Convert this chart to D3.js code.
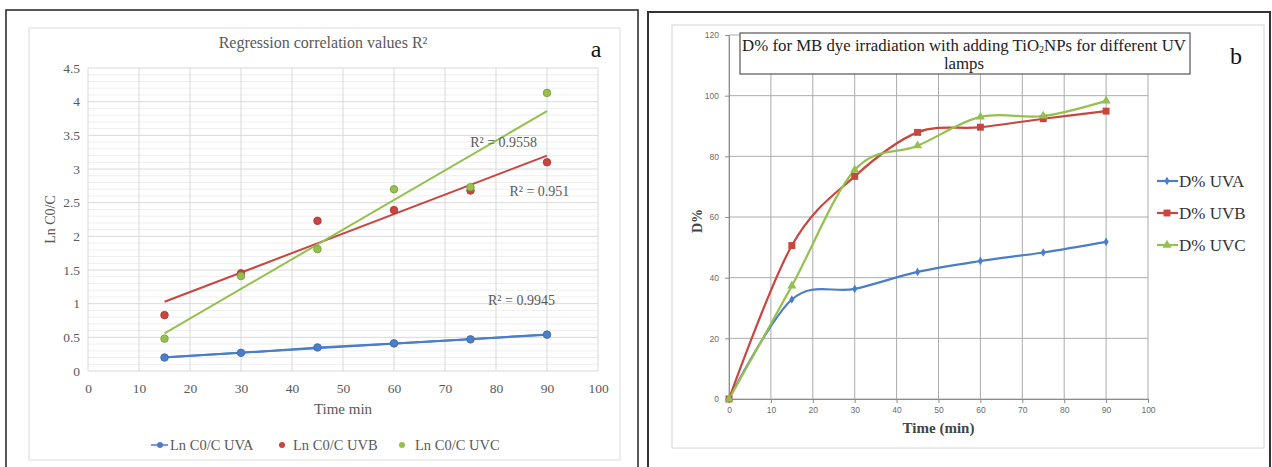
<!DOCTYPE html>
<html>
<head>
<meta charset="utf-8">
<script src="https://cdn.jsdelivr.net/npm/d3@7"></script>
<style>
  html, body { margin: 0; padding: 0; background: #fff; }
  svg { display: block; }
</style>
</head>
<body>
<svg id="fig" width="1272" height="467"></svg>
<script>
// ---- Panel a: Ln(C0/C) against irradiation time ----
const timeA = [15, 30, 45, 60, 75, 90];
const lnUVA = [0.20, 0.27, 0.35, 0.41, 0.47, 0.54];
const lnUVB = [0.83, 1.45, 2.23, 2.39, 2.68, 3.10];
const lnUVC = [0.48, 1.41, 1.81, 2.70, 2.73, 4.13];
const seriesA = ["Ln C0/C UVA", "Ln C0/C UVB", "Ln C0/C UVC"];
const r2Text = ["R² = 0.9945", "R² = 0.951", "R² = 0.9558"];
const r2At = [[85, 1.05], [88.5, 2.67], [81.5, 3.4]];   // label anchor (time, value)
const xTicksA = [0, 10, 20, 30, 40, 50, 60, 70, 80, 90, 100];
const yTicksA = [0, 0.5, 1, 1.5, 2, 2.5, 3, 3.5, 4, 4.5];

// ---- Panel b: degradation percentage D% ----
const timeB = [0, 15, 30, 45, 60, 75, 90];
const dUVA = [0, 32.8, 36.3, 41.9, 45.5, 48.3, 51.8];
const dUVB = [0, 50.6, 73.4, 87.9, 89.6, 92.4, 94.9];
const dUVC = [0, 37.3, 75.5, 83.5, 93.0, 93.3, 98.3];
const seriesB = ["D% UVA", "D% UVB", "D% UVC"];
const xTicksB = [0, 10, 20, 30, 40, 50, 60, 70, 80, 90, 100];
const yTicksB = [0, 20, 40, 60, 80, 100, 120];

const colors = ["#4a7ec8", "#c9453f", "#96c04e"];
const serif = "'Liberation Serif', 'Times New Roman', serif";
const sans = "'Liberation Sans', Arial, sans-serif";

const svg = d3.select("#fig");

// outer panel frames
svg.append("rect").attr("x", 6).attr("y", 10).attr("width", 632).attr("height", 470)
  .attr("fill", "none").attr("stroke", "#222").attr("stroke-width", 1.5);
svg.append("rect").attr("x", 648).attr("y", 12).attr("width", 622).attr("height", 470)
  .attr("fill", "none").attr("stroke", "#333").attr("stroke-width", 2);
// chart area frames
svg.append("rect").attr("x", 29).attr("y", 28).attr("width", 591).attr("height", 432)
  .attr("fill", "none").attr("stroke", "#dedede").attr("stroke-width", 1);
svg.append("rect").attr("x", 672).attr("y", 25).attr("width", 592).attr("height", 423)
  .attr("fill", "none").attr("stroke", "#d4d4d4").attr("stroke-width", 1);

// ================= Panel a =================
{
  const x = d3.scaleLinear().domain([0, 100]).range([88, 598]);
  const y = d3.scaleLinear().domain([0, 4.5]).range([371, 68]);
  const g = svg.append("g");

  // minor horizontal grid every 0.1
  g.append("g").selectAll("line").data(d3.range(0, 45).map(i => i / 10).filter(v => Math.round(v * 10) % 5 !== 0))
    .join("line")
    .attr("x1", x(0)).attr("x2", x(100)).attr("y1", d => y(d)).attr("y2", d => y(d))
    .attr("stroke", "#efefef").attr("stroke-width", 1);
  // major grid
  g.append("g").selectAll("line").data(yTicksA).join("line")
    .attr("x1", x(0)).attr("x2", x(100)).attr("y1", d => y(d)).attr("y2", d => y(d))
    .attr("stroke", "#d9d9d9").attr("stroke-width", 1);
  g.append("g").selectAll("line").data(xTicksA).join("line")
    .attr("x1", d => x(d)).attr("x2", d => x(d)).attr("y1", y(0)).attr("y2", y(4.5))
    .attr("stroke", "#d9d9d9").attr("stroke-width", 1);

  // axes labels via d3 axes
  const ax = g.append("g").attr("transform", `translate(0,${y(0)})`)
    .call(d3.axisBottom(x).tickValues(xTicksA).tickSize(0).tickPadding(12));
  const ay = g.append("g").attr("transform", `translate(${x(0)},0)`)
    .call(d3.axisLeft(y).tickValues(yTicksA).tickFormat(d3.format("")).tickSize(0).tickPadding(8));
  [ax, ay].forEach(a => {
    a.select(".domain").remove();
    a.selectAll("text").attr("fill", "#595959").attr("font-family", serif).attr("font-size", 13.5);
  });

  const sets = [lnUVA, lnUVB, lnUVC];

  // least-squares trend lines over the measured span
  sets.forEach((vals, i) => {
    const mx = d3.mean(timeA), my = d3.mean(vals);
    const sxy = d3.sum(timeA, (t, k) => (t - mx) * (vals[k] - my));
    const sxx = d3.sum(timeA, t => (t - mx) ** 2);
    const b = sxy / sxx, a0 = my - b * mx;
    const t0 = timeA[0], t1 = timeA[timeA.length - 1];
    g.append("line")
      .attr("x1", x(t0)).attr("y1", y(a0 + b * t0))
      .attr("x2", x(t1)).attr("y2", y(a0 + b * t1))
      .attr("stroke", colors[i]).attr("stroke-width", 2);
  });

  // UVA series joined by a line
  g.append("path").datum(timeA.map((t, k) => [t, lnUVA[k]]))
    .attr("d", d3.line().x(d => x(d[0])).y(d => y(d[1])))
    .attr("fill", "none").attr("stroke", colors[0]).attr("stroke-width", 2);

  // markers
  sets.forEach((vals, i) => {
    g.append("g").selectAll("circle").data(timeA.map((t, k) => [t, vals[k]])).join("circle")
      .attr("cx", d => x(d[0])).attr("cy", d => y(d[1])).attr("r", 3.8)
      .attr("fill", colors[i]).attr("stroke", d3.color(colors[i]).darker(0.6)).attr("stroke-width", 0.8);
  });

  // R² labels
  g.append("g").selectAll("text").data(r2Text).join("text")
    .attr("x", (d, i) => x(r2At[i][0])).attr("y", (d, i) => y(r2At[i][1]) + 5)
    .attr("text-anchor", "middle").attr("font-family", serif).attr("font-size", 14)
    .attr("fill", "#595959").text(d => d);

  // titles
  g.append("text").attr("x", 323).attr("y", 48).attr("text-anchor", "middle")
    .attr("font-family", serif).attr("font-size", 16).attr("fill", "#595959")
    .text("Regression correlation values R²");
  g.append("text").attr("x", 596).attr("y", 57).attr("text-anchor", "middle")
    .attr("font-family", serif).attr("font-size", 24).attr("fill", "#111").text("a");
  g.append("text").attr("transform", `translate(55,${(y(0) + y(4.5)) / 2}) rotate(-90)`)
    .attr("text-anchor", "middle").attr("font-family", serif).attr("font-size", 14)
    .attr("fill", "#595959").text("Ln C0/C");
  g.append("text").attr("x", x(50)).attr("y", 414).attr("text-anchor", "middle")
    .attr("font-family", serif).attr("font-size", 15).attr("fill", "#595959").text("Time min");

  // legend
  const legMark = [160, 282, 402];
  const legText = [170, 293, 415];
  const lg = g.append("g");
  seriesA.forEach((name, i) => {
    const cy = 445;
    if (i === 0) {
      lg.append("line").attr("x1", legMark[i] - 9).attr("x2", legMark[i] + 8).attr("y1", cy).attr("y2", cy)
        .attr("stroke", colors[i]).attr("stroke-width", 1.5);
    }
    lg.append("circle").attr("cx", legMark[i]).attr("cy", cy).attr("r", 3)
      .attr("fill", colors[i]);
    lg.append("text").attr("x", legText[i]).attr("y", cy + 5)
      .attr("font-family", serif).attr("font-size", 14.5).attr("fill", "#595959").text(name);
  });
}

// ================= Panel b =================
{
  const x = d3.scaleLinear().domain([0, 100]).range([729, 1148]);
  const y = d3.scaleLinear().domain([0, 120]).range([399, 35]);
  const g = svg.append("g");

  // grid
  g.append("g").selectAll("line").data(yTicksB).join("line")
    .attr("x1", x(0)).attr("x2", x(100)).attr("y1", d => y(d)).attr("y2", d => y(d))
    .attr("stroke", "#acacac").attr("stroke-width", 1);
  g.append("g").selectAll("line").data(xTicksB).join("line")
    .attr("x1", d => x(d)).attr("x2", d => x(d)).attr("y1", y(0)).attr("y2", y(120))
    .attr("stroke", "#acacac").attr("stroke-width", 1);

  const ax = g.append("g").attr("transform", `translate(0,${y(0)})`)
    .call(d3.axisBottom(x).tickValues(xTicksB).tickSize(4).tickPadding(4));
  const ay = g.append("g").attr("transform", `translate(${x(0)},0)`)
    .call(d3.axisLeft(y).tickValues(yTicksB).tickSize(4).tickPadding(6));
  [ax, ay].forEach(a => {
    a.select(".domain").attr("stroke", "#8c8c8c");
    a.selectAll(".tick line").attr("stroke", "#8c8c8c");
    a.selectAll("text").attr("fill", "#6b6b6b").attr("font-family", sans).attr("font-size", 8.5);
  });

  const sets = [dUVA, dUVB, dUVC];
  const line = d3.line().x(d => x(d[0])).y(d => y(d[1])).curve(d3.curveCardinal.tension(0));
  sets.forEach((vals, i) => {
    g.append("path").datum(timeB.map((t, k) => [t, vals[k]]))
      .attr("d", line).attr("fill", "none").attr("stroke", colors[i]).attr("stroke-width", 2.2);
  });

  const symTypes = [d3.symbolDiamond, d3.symbolSquare, d3.symbolTriangle];
  const symSizes = [22, 48, 36];
  sets.forEach((vals, i) => {
    g.append("g").selectAll("path").data(timeB.map((t, k) => [t, vals[k]])).join("path")
      .attr("transform", d => `translate(${x(d[0])},${y(d[1])})`)
      .attr("d", d3.symbol().type(symTypes[i]).size(symSizes[i]))
      .attr("fill", colors[i]);
  });

  // title box
  g.append("rect").attr("x", 740).attr("y", 33).attr("width", 450).attr("height", 41)
    .attr("fill", "#fff").attr("stroke", "#555").attr("stroke-width", 1.2);
  const t1 = g.append("text").attr("x", 964).attr("y", 51).attr("text-anchor", "middle")
    .attr("font-family", serif).attr("font-size", 16.8).attr("fill", "#222");
  t1.append("tspan").text("D% for MB dye irradiation with adding TiO");
  t1.append("tspan").attr("font-size", 10).attr("dy", 2).text("2");
  t1.append("tspan").attr("dy", -2).text("NPs for different UV");
  g.append("text").attr("x", 964).attr("y", 69).attr("text-anchor", "middle")
    .attr("font-family", serif).attr("font-size", 16.8).attr("fill", "#222").text("lamps");

  g.append("text").attr("x", 1236).attr("y", 64).attr("text-anchor", "middle")
    .attr("font-family", serif).attr("font-size", 24).attr("fill", "#111").text("b");

  g.append("text").attr("transform", `translate(702,${(y(0) + y(120)) / 2 + 4}) rotate(-90)`)
    .attr("text-anchor", "middle").attr("font-family", serif).attr("font-size", 14)
    .attr("font-weight", "bold").attr("fill", "#444").text("D%");
  g.append("text").attr("x", x(50)).attr("y", 433).attr("text-anchor", "middle")
    .attr("font-family", serif).attr("font-size", 15).attr("font-weight", "bold")
    .attr("fill", "#444").text("Time (min)");

  // legend
  const lg = g.append("g");
  seriesB.forEach((name, i) => {
    const cy = 181 + i * 32;
    lg.append("line").attr("x1", 1157).attr("x2", 1178).attr("y1", cy).attr("y2", cy)
      .attr("stroke", colors[i]).attr("stroke-width", 2.2);
    lg.append("path").attr("transform", `translate(1167,${cy})`)
      .attr("d", d3.symbol().type(symTypes[i]).size(symSizes[i]))
      .attr("fill", colors[i]);
    lg.append("text").attr("x", 1179).attr("y", cy + 6)
      .attr("font-family", serif).attr("font-size", 17).attr("fill", "#333").text(name);
  });
}
</script>
</body>
</html>
